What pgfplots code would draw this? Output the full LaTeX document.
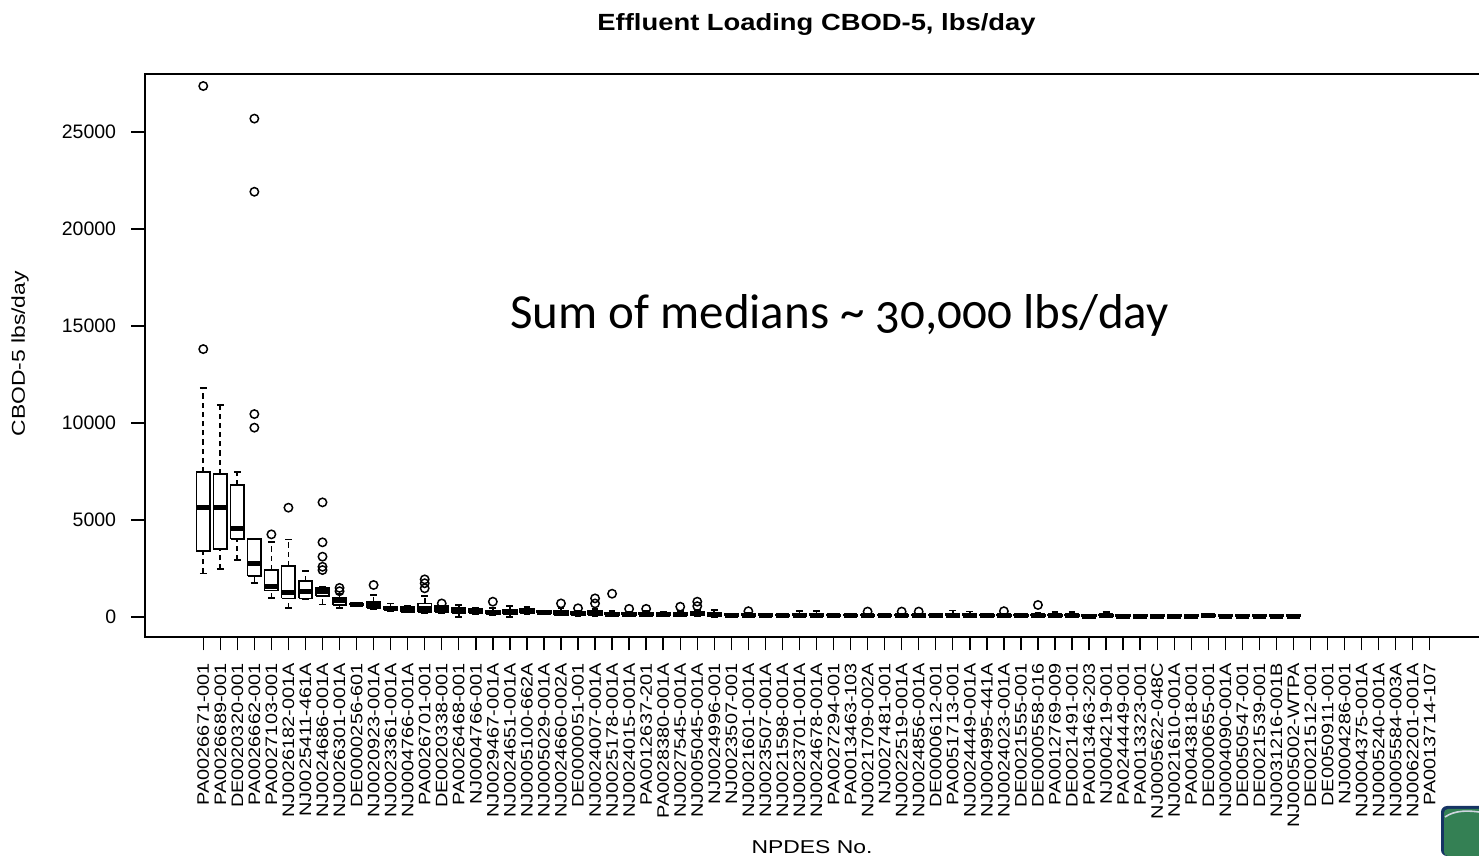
\documentclass[border=0pt]{standalone}
\usepackage{fontspec}
\setmainfont{Liberation Sans}
\newfontfamily\titlefont[FakeStretch=1.17]{Liberation Sans}
\newfontfamily\labfont[FakeStretch=1.23]{Liberation Sans}
\newfontfamily\xtfont[FakeStretch=1.2]{Liberation Sans}
\newfontfamily\annfont[Numbers=OldStyle]{Carlito}
\usepackage{pgfplots}
\pgfplotsset{compat=1.18}
\definecolor{logogreen}{RGB}{52,128,84}
\definecolor{logoblue}{RGB}{22,52,100}
\pgfplotsset{
  whisk/.style={black, line width=0.85pt, dash pattern=on 2.6pt off 2pt},
  cap/.style={black, line width=0.85pt},
  boxs/.style={black, line width=0.85pt, line join=miter},
  med/.style={black, line width=2.5pt},
}
% position, lower whisker, lower quartile, median, upper quartile, upper whisker
\newcommand\bp[6]{%
  \pgfmathsetmacro\xa{#1-0.4}\pgfmathsetmacro\xb{#1+0.4}%
  \pgfmathsetmacro\xc{#1-0.2}\pgfmathsetmacro\xd{#1+0.2}%
  \addplot[whisk] coordinates {(#1,#2) (#1,#3) (nan,nan) (#1,#5) (#1,#6)};
  \addplot[cap] coordinates {(\xc,#2) (\xd,#2) (nan,nan) (\xc,#6) (\xd,#6)};
  \addplot[boxs] coordinates {(\xa,#3) (\xb,#3) (\xb,#5) (\xa,#5) (\xa,#3)};
  \addplot[med] coordinates {(\xa,#4) (\xb,#4)};
}
\begin{document}
\begin{tikzpicture}
\begin{axis}[
  at={(0,0)}, anchor=south west,
  scale only axis, width=671.5pt, height=281.5pt,
  xmin=-2.42, xmax=76.42, ymin=-1030, ymax=27990,
  unbounded coords=jump,
  clip marker paths=true,
  scaled y ticks=false,
  axis line style={line width=0.8pt},
  tick align=outside, tick pos=left,
  major tick length=6.75pt,
  tick style={black, line width=0.7pt},
  xtick={1,...,73},
  xticklabels={PA0026671-001,PA0026689-001,DE0020320-001,PA0026662-001,PA0027103-001,NJ0026182-001A,NJ0025411-461A,NJ0024686-001A,NJ0026301-001A,DE0000256-601,NJ0020923-001A,NJ0023361-001A,NJ0004766-001A,PA0026701-001,DE0020338-001,PA0026468-001,NJ0004766-001,NJ0029467-001A,NJ0024651-001A,NJ0005100-662A,NJ0005029-001A,NJ0024660-002A,DE0000051-001,NJ0024007-001A,NJ0025178-001A,NJ0024015-001A,PA0012637-201,PA0028380-001A,NJ0027545-001A,NJ0005045-001A,NJ0024996-001,NJ0023507-001,NJ0021601-001A,NJ0023507-001A,NJ0021598-001A,NJ0023701-001A,NJ0024678-001A,PA0027294-001,PA0013463-103,NJ0021709-002A,NJ0027481-001,NJ0022519-001A,NJ0024856-001A,DE0000612-001,PA0051713-001,NJ0024449-001A,NJ0004995-441A,NJ0024023-001A,DE0021555-001,DE0000558-016,PA0012769-009,DE0021491-001,PA0013463-203,NJ0004219-001,PA0244449-001,PA0013323-001,NJ0005622-048C,NJ0021610-001A,PA0043818-001,DE0000655-001,NJ0004090-001A,DE0050547-001,DE0021539-001,NJ0031216-001B,NJ0005002-WTPA,DE0021512-001,DE0050911-001,NJ0004286-001,NJ0004375-001A,NJ0005240-001A,NJ0005584-003A,NJ0062201-001A,PA0013714-107},
  ytick={0,5000,10000,15000,20000,25000},
  yticklabels={0,5000,10000,15000,20000,25000},
  xticklabel shift=6pt,
  yticklabel shift=7.5pt,
  xticklabel style={rotate=90, anchor=east, inner sep=0pt, font=\xtfont\fontsize{8.3}{9}\selectfont},
  yticklabel style={anchor=east, inner sep=0pt, font=\fontsize{9.75}{11}\selectfont},
  title={Effluent Loading CBOD-5, lbs/day},
  title style={at={(axis description cs:0.5,1)}, anchor=base, yshift=15.5pt, font=\titlefont\bfseries\fontsize{11.7}{14}\selectfont},
  ylabel={CBOD-5 lbs/day},
  ylabel style={at={(axis description cs:-0.0931,0.503)}, anchor=center, font=\labfont\fontsize{9.3}{11}\selectfont},
  xlabel={NPDES No.},
  xlabel style={at={(axis description cs:0.4967,-0.3837)}, anchor=base, font=\labfont\fontsize{9.3}{11}\selectfont},
]
\bp{1}{2250}{3420}{5635}{7460}{11820}
\bp{2}{2460}{3500}{5635}{7370}{10930}
\bp{3}{2940}{4020}{4550}{6790}{7470}
\bp{4}{1770}{2130}{2770}{4020}{4020}
\bp{5}{995}{1360}{1560}{2420}{3880}
\bp{6}{480}{960}{1270}{2630}{4000}
\bp{7}{900}{960}{1310}{1870}{2370}
\bp{8}{650}{1080}{1310}{1480}{1550}
\bp{9}{450}{620}{830}{1000}{1200}
\bp{10}{550}{600}{650}{700}{750}
\bp{11}{400}{450}{670}{760}{1130}
\bp{12}{300}{360}{450}{530}{700}
\bp{13}{230}{270}{380}{500}{560}
\bp{14}{200}{270}{460}{700}{1080}
\bp{15}{220}{260}{420}{560}{560}
\bp{16}{15}{220}{350}{480}{620}
\bp{17}{150}{200}{300}{400}{450}
\bp{18}{100}{150}{250}{330}{450}
\bp{19}{15}{150}{250}{360}{570}
\bp{20}{150}{200}{300}{400}{500}
\bp{21}{180}{200}{250}{300}{330}
\bp{22}{80}{120}{200}{300}{450}
\bp{23}{50}{100}{180}{250}{330}
\bp{24}{50}{100}{180}{300}{400}
\bp{25}{50}{100}{150}{220}{300}
\bp{26}{40}{80}{130}{200}{280}
\bp{27}{50}{100}{150}{220}{300}
\bp{28}{40}{80}{130}{200}{250}
\bp{29}{50}{100}{150}{220}{300}
\bp{30}{50}{100}{170}{250}{350}
\bp{31}{0}{60}{120}{200}{350}
\bp{32}{30}{50}{100}{150}{180}
\bp{33}{30}{60}{100}{150}{200}
\bp{34}{30}{50}{90}{140}{170}
\bp{35}{20}{40}{80}{120}{150}
\bp{36}{0}{50}{100}{160}{300}
\bp{37}{0}{50}{100}{160}{300}
\bp{38}{20}{30}{60}{100}{120}
\bp{39}{20}{30}{60}{100}{120}
\bp{40}{20}{40}{70}{110}{150}
\bp{41}{20}{30}{60}{100}{120}
\bp{42}{20}{40}{70}{110}{150}
\bp{43}{20}{40}{70}{110}{150}
\bp{44}{20}{30}{60}{100}{120}
\bp{45}{0}{40}{100}{170}{330}
\bp{46}{0}{40}{90}{150}{280}
\bp{47}{20}{30}{60}{100}{120}
\bp{48}{20}{40}{70}{110}{150}
\bp{49}{20}{30}{60}{100}{120}
\bp{50}{20}{40}{80}{130}{200}
\bp{51}{0}{30}{70}{120}{250}
\bp{52}{0}{30}{70}{120}{250}
\bp{53}{10}{20}{50}{90}{110}
\bp{54}{0}{30}{70}{120}{250}
\bp{55}{10}{20}{50}{90}{110}
\bp{56}{10}{20}{50}{90}{110}
\bp{57}{10}{20}{50}{90}{110}
\bp{58}{10}{20}{50}{90}{110}
\bp{59}{10}{20}{50}{90}{110}
\bp{60}{10}{30}{60}{110}{160}
\bp{61}{10}{20}{50}{90}{110}
\bp{62}{10}{20}{50}{90}{110}
\bp{63}{10}{20}{50}{90}{110}
\bp{64}{10}{20}{50}{90}{110}
\bp{65}{10}{20}{50}{90}{110}
% outliers
\addplot[only marks, mark=o, mark size=2.1pt, mark options={black, line width=0.75pt}] coordinates {
 (1,13810) (1,27370) (2,28050) (4,9760) (4,10460) (4,21920) (4,25690)
 (5,4260) (6,5635) (8,2420) (8,2590) (8,3110) (8,3850) (8,5910)
 (9,1330) (9,1500) (11,1650) (14,1480) (14,1740) (14,1940) (15,700)
 (18,790) (22,700) (23,450) (24,700) (24,960) (25,1200) (26,420) (27,420)
 (29,530) (30,560) (30,790) (33,300) (40,280) (42,280) (43,280) (48,300) (50,620)
};
\node[font=\annfont\fontsize{24.5}{29}\selectfont, anchor=center] at (axis cs:38.35,15570) {Sum of medians \textasciitilde{} 30,000 lbs/day};
\end{axis}
% slide logo fragment at the lower right corner
\fill[logoblue, rounded corners=3pt] (648pt,-109.5pt) rectangle (672pt,-84.5pt);
\fill[logogreen, rounded corners=2pt] (649.5pt,-109.5pt) rectangle (672pt,-86pt);
\draw[white!80!logoblue, line width=0.8pt] (650pt,-90pt) .. controls (655pt,-86.5pt) and (662pt,-86.5pt) .. (670pt,-88pt);
\pgfresetboundingbox
\useasboundingbox (-72.5pt,-109.5pt) rectangle (667pt,318.5pt);
\end{tikzpicture}
\end{document}
